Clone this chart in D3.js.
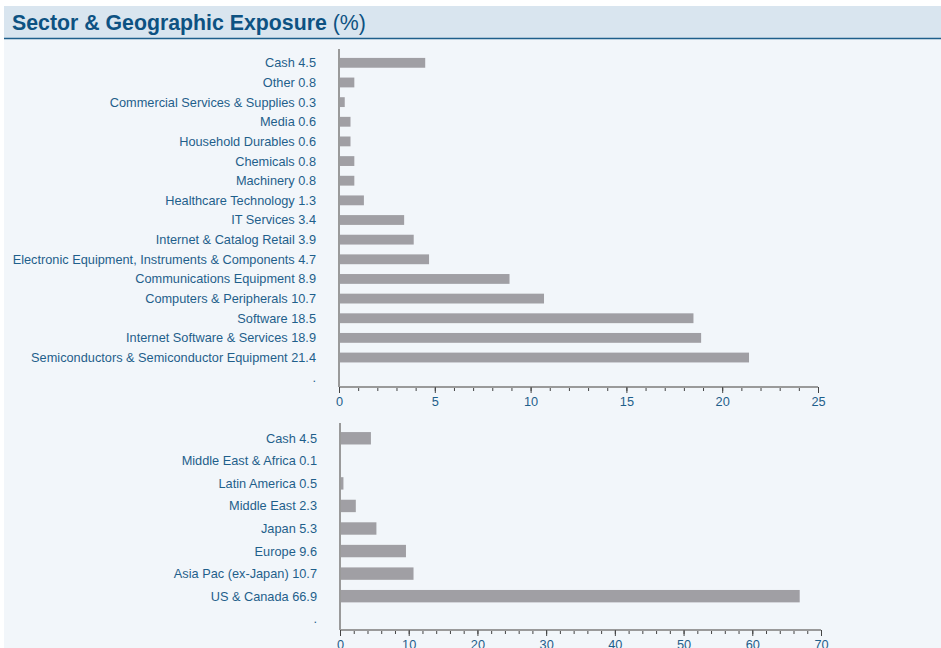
<!DOCTYPE html>
<html>
<head>
<meta charset="utf-8">
<script src="https://cdn.jsdelivr.net/npm/d3@7"></script>
<style>
  body { margin: 0; background: #fff; font-family: "Liberation Sans", Arial, sans-serif; }
</style>
</head>
<body>
<script>
var width = 941,
    height = 648;

var sectors = ['Cash', 'Other', 'Commercial Services & Supplies', 'Media', 'Household Durables',
  'Chemicals', 'Machinery', 'Healthcare Technology', 'IT Services', 'Internet & Catalog Retail',
  'Electronic Equipment, Instruments & Components', 'Communications Equipment',
  'Computers & Peripherals', 'Software', 'Internet Software & Services',
  'Semiconductors & Semiconductor Equipment'];
var sectorValues = [4.5, 0.8, 0.3, 0.6, 0.6, 0.8, 0.8, 1.3, 3.4, 3.9, 4.7, 8.9, 10.7, 18.5, 18.9, 21.4];
var sectorTicks = [0, 5, 10, 15, 20, 25];

var regions = ['Cash', 'Middle East & Africa', 'Latin America', 'Middle East', 'Japan',
  'Europe', 'Asia Pac (ex-Japan)', 'US & Canada'];
var regionValues = [4.5, 0.1, 0.5, 2.3, 5.3, 9.6, 10.7, 66.9];
var regionTicks = [0, 10, 20, 30, 40, 50, 60, 70];

var textColor = '#1f5f8b',
    barColor = '#a09fa4',
    axisColor = '#9a9a9a';

var svg = d3.select('body')
  .append('svg')
  .attr('width', width)
  .attr('height', height);

// panel
svg.append('rect')
  .attr('x', 4).attr('y', 6)
  .attr('width', width - 4).attr('height', height - 6)
  .attr('fill', '#f2f6fa');

svg.append('rect')
  .attr('x', 4).attr('y', 6)
  .attr('width', width - 4).attr('height', 32)
  .attr('fill', '#d9e5ef');

svg.append('line')
  .attr('x1', 4).attr('x2', width)
  .attr('y1', 38.5).attr('y2', 38.5)
  .attr('stroke', '#1f5f8b')
  .attr('stroke-width', 1.5);

var title = svg.append('text')
  .attr('x', 12).attr('y', 30)
  .attr('fill', '#0d5282')
  .style('font-size', '21.3px');
title.append('tspan').attr('font-weight', 'bold').text('Sector & Geographic Exposure ');
title.append('tspan').text('(%)');

function barChart(opts) {
  var labels = opts.names.map(function(n, i) { return n + ' ' + opts.values[i]; });
  var cats = labels.concat(['.']);

  var x = d3.scaleLinear()
    .domain([0, opts.ticks[opts.ticks.length - 1]])
    .range([opts.x0, opts.x1]);

  var y = d3.scaleBand()
    .domain(cats)
    .range([opts.y0, opts.y1])
    .paddingInner(opts.pad)
    .paddingOuter(opts.pad / 2);

  var g = svg.append('g');

  g.selectAll('rect.bar')
    .data(opts.values)
    .enter().append('rect')
    .attr('class', 'bar')
    .attr('x', x(0))
    .attr('y', function(d, i) { return y(labels[i]); })
    .attr('width', function(d) { return x(d) - x(0); })
    .attr('height', y.bandwidth())
    .attr('fill', barColor);

  g.selectAll('text.lab')
    .data(cats)
    .enter().append('text')
    .attr('class', 'lab')
    .attr('x', opts.x0 - 23)
    .attr('y', function(d) { return y(d) + y.bandwidth() / 2; })
    .attr('dy', '0.35em')
    .attr('text-anchor', 'end')
    .attr('fill', textColor)
    .style('font-size', '12.75px')
    .text(function(d) { return d; });

  // vertical axis line
  g.append('line')
    .attr('x1', x(0)).attr('x2', x(0))
    .attr('y1', opts.y0 - 4).attr('y2', opts.y1)
    .attr('stroke', axisColor).attr('stroke-width', 2);

  // minor ticks
  var ax = g.append('g').attr('transform', 'translate(0,' + opts.y1 + ')');
  ax.call(d3.axisBottom(x).tickValues(d3.range(0, x.domain()[1] + 0.001, opts.minor))
      .tickSize(4).tickFormat(''))
    .call(function(s) { s.select('.domain').remove(); })
    .selectAll('line').attr('stroke', '#444');

  var ax2 = g.append('g').attr('transform', 'translate(0,' + opts.y1 + ')');
  ax2.call(d3.axisBottom(x).tickValues(opts.ticks).tickSize(6).tickPadding(4))
    .call(function(s) {
      s.select('.domain').attr('stroke', axisColor).attr('stroke-width', 2)
        .attr('d', 'M' + x(0) + ',0H' + x.range()[1]);
    });
  ax2.selectAll('line').attr('stroke', '#444');
  ax2.selectAll('text').attr('fill', textColor)
    .style('font-size', '12.75px')
    .style('font-family', '"Liberation Sans", Arial, sans-serif');
}

barChart({
  names: sectors, values: sectorValues, ticks: sectorTicks, minor: 1,
  x0: 339, x1: 818, y0: 53, y1: 387, pad: 0.5
});

barChart({
  names: regions, values: regionValues, ticks: regionTicks, minor: 2,
  x0: 340, x1: 821, y0: 427, y1: 630, pad: 0.45
});
</script>
</body>
</html>
